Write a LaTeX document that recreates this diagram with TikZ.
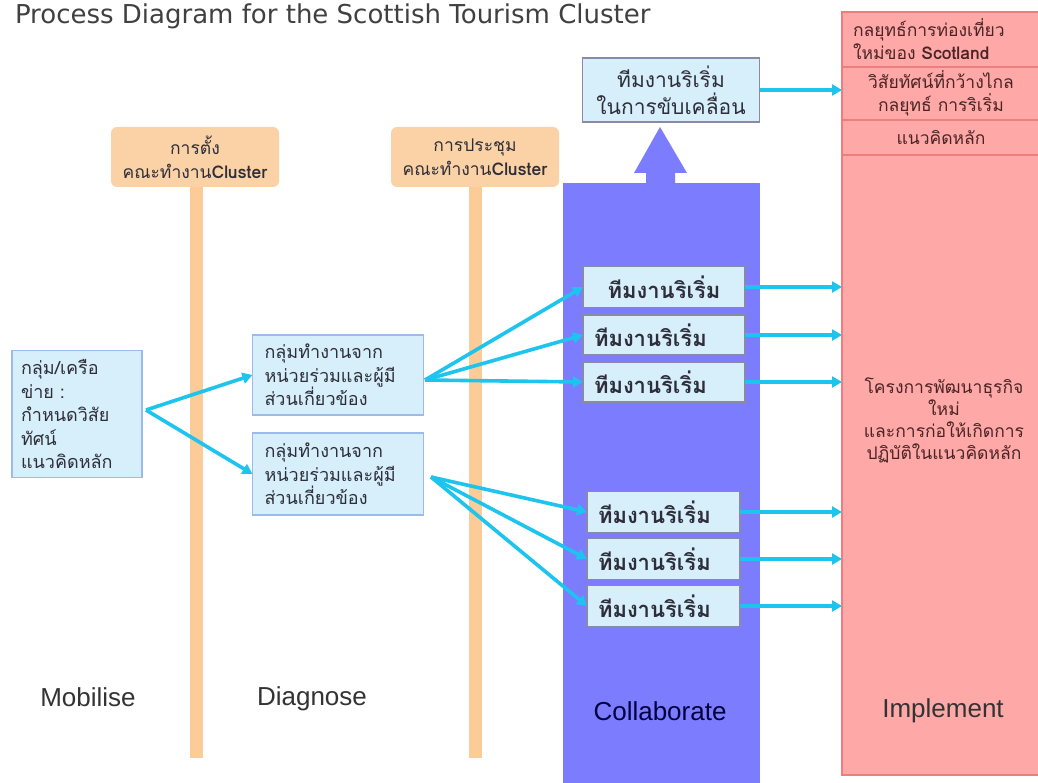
\documentclass[tikz,border=0pt]{standalone}
\usepackage{fontspec}
\setmainfont{Liberation Sans}
\newfontfamily\thai[Script=Thai]{Loma}
\newfontfamily\titlefont{DejaVu Sans}
\usetikzlibrary{arrows.meta}
\definecolor{orangefill}{HTML}{FBD2A6}
\definecolor{orangebar}{HTML}{FBCB98}
\definecolor{collabfill}{HTML}{7C7CFF}
\definecolor{boxfill}{HTML}{D6EFFB}
\definecolor{boxline}{HTML}{9DBBEA}
\definecolor{teamline}{HTML}{8A8AA6}
\definecolor{pinkfill}{HTML}{FFA8A8}
\definecolor{pinkline}{HTML}{EE7E7E}
\definecolor{arrowcyan}{HTML}{1CC4EE}
\definecolor{thaitext}{HTML}{2E2E3A}
\definecolor{pinktext}{HTML}{4A2424}
\begin{document}
\begin{tikzpicture}[x=1pt,y=-1pt,
  every node/.style={inner sep=0pt,outer sep=0pt},
  arr/.style={draw=arrowcyan,line width=3.6pt,-{Triangle[length=10pt,width=11pt]}},
  orangebox/.style={fill=orangefill,rounded corners=6pt,minimum width=168,minimum height=60,
    align=center,text=thaitext,font=\thai\fontsize{17.5}{24}\selectfont},
  bar/.style={fill=orangebar},
  bluebox/.style={draw=boxline,fill=boxfill,line width=1.3pt,align=left,text=thaitext,
    font=\thai\fontsize{18}{23.5}\selectfont},
  teambox/.style={draw=teamline,fill=boxfill,line width=1.3pt,minimum height=40,
    text=thaitext,font=\thai\bfseries\fontsize{22}{24}\selectfont},
  pinkcell/.style={draw=pinkline,fill=pinkfill,line width=1.2pt,minimum width=198,
    text=pinktext,font=\thai\fontsize{17.5}{23}\selectfont},
  stage/.style={font=\fontsize{26}{30}\selectfont}]
\clip (0,0) rectangle (1038,783);
\fill[white] (0,0) rectangle (1038,783);

% title
\node[anchor=base west,text=black!75,font=\titlefont\fontsize{26}{30}\selectfont] (title) at (15,24)
  {Process Diagram for the Scottish Tourism Cluster};

% orange milestone bars and their labels
\fill[bar] (190,187) rectangle (203,758);
\fill[bar] (469,187) rectangle (482,758);
\node[orangebox] (setup) at (195,157) {การตั้ง\\คณะทำงาน\textbf{Cluster}};
\node[orangebox] (meet) at (475,157) {การประชุม\\คณะทำงาน\textbf{Cluster}};

% collaborate column with its upward arrow
\node[fill=collabfill,minimum width=197,minimum height=600] (collab) at (661.5,483) {};
\fill[collabfill] (646,184) -- (646,173) -- (634,173) -- (660,127) -- (687,173) -- (675,173) -- (675,184) -- cycle;

% implement column with header cells
\node[pinkcell,minimum height=763] (imp) at (941,393.5) {};
\node[pinkcell,minimum height=55,text width=176,inner xsep=11pt,align=left] (h1) at (941,39.5)
  {กลยุทธ์การท่องเที่ยว\\ใหม่ของ \textbf{Scotland}};
\node[pinkcell,minimum height=53,align=center] (h2) at (941,93.5)
  {วิสัยทัศน์ที่กว้างไกล\\กลยุทธ์ การริเริ่ม};
\node[pinkcell,minimum height=35,align=center] (h3) at (941,137.5) {แนวคิดหลัก};
\node[align=center,text=pinktext,font=\thai\fontsize{17.5}{22}\selectfont] (impnote) at (944,420)
  {โครงการพัฒนาธุรกิจ\\ใหม่\\และการก่อให้เกิดการ\\ปฏิบัติในแนวคิดหลัก};

% mobilise and diagnose boxes
\node[bluebox,minimum width=130,minimum height=127,text width=112,inner xsep=9pt] (mob) at (77,414)
  {กลุ่ม/เครือ\\ข่าย :\\กำหนดวิสัย\\ทัศน์\\แนวคิดหลัก};
\node[bluebox,minimum height=80,text width=147,inner xsep=12pt] (d1) at (338,375)
  {กลุ่มทำงานจาก\\หน่วยร่วมและผู้มี\\ส่วนเกี่ยวข้อง};
\node[bluebox,minimum height=82,text width=147,inner xsep=12pt] (d2) at (338,474)
  {กลุ่มทำงานจาก\\หน่วยร่วมและผู้มี\\ส่วนเกี่ยวข้อง};

% initiative teams
\node[draw=teamline,fill=boxfill,line width=1.3pt,minimum width=177,minimum height=64,align=center,
  text=thaitext,font=\thai\fontsize{21}{27}\selectfont] (drive) at (671,90)
  {ทีมงานริเริ่ม\\ในการขับเคลื่อน};
\node[teambox,minimum width=162,minimum height=41] (t1) at (664,287) {ทีมงานริเริ่ม};
\node[teambox,text width=140,inner xsep=11pt] (t2) at (664,335) {ทีมงานริเริ่ม};
\node[teambox,text width=140,inner xsep=11pt] (t3) at (664,382) {ทีมงานริเริ่ม};
\node[teambox,text width=131,inner xsep=11pt,minimum height=41] (t4) at (663.5,512) {ทีมงานริเริ่ม};
\node[teambox,text width=131,inner xsep=11pt,minimum height=41] (t5) at (663.5,559) {ทีมงานริเริ่ม};
\node[teambox,text width=131,inner xsep=11pt,minimum height=41] (t6) at (663.5,606) {ทีมงานริเริ่ม};

% stage names
\node[stage,text=black!80] (mobilise) at (88,697) {Mobilise};
\node[stage,text=black!80] (diagnose) at (312,699) {Diagnose};
\node[stage,text=blue!25!black] (collaborate) at (660,711) {Collaborate};
\node[stage,text=black!80] (implement) at (943,711) {Implement};

% connectors
\coordinate (fork) at (146,410);
\draw[arr] (fork) -- (d1.west);
\draw[arr] (fork) -- (d2.west);
\coordinate (s1) at (425,380);
\draw[arr] (s1) -- (t1.west);
\draw[arr] (s1) -- (t2.west);
\draw[arr] (s1) -- (t3.west);
\coordinate (s2) at (431,477);
\draw[arr] (s2) -- (t4.west);
\draw[arr] (s2) -- (t5.west);
\draw[arr] (s2) -- (t6.west);
\draw[arr] (drive.east) -- (drive.east -| imp.west);
\foreach \t in {t1,t2,t3,t4,t5,t6}
  \draw[arr] (\t.east) -- (\t.east -| imp.west);
\end{tikzpicture}
\end{document}
